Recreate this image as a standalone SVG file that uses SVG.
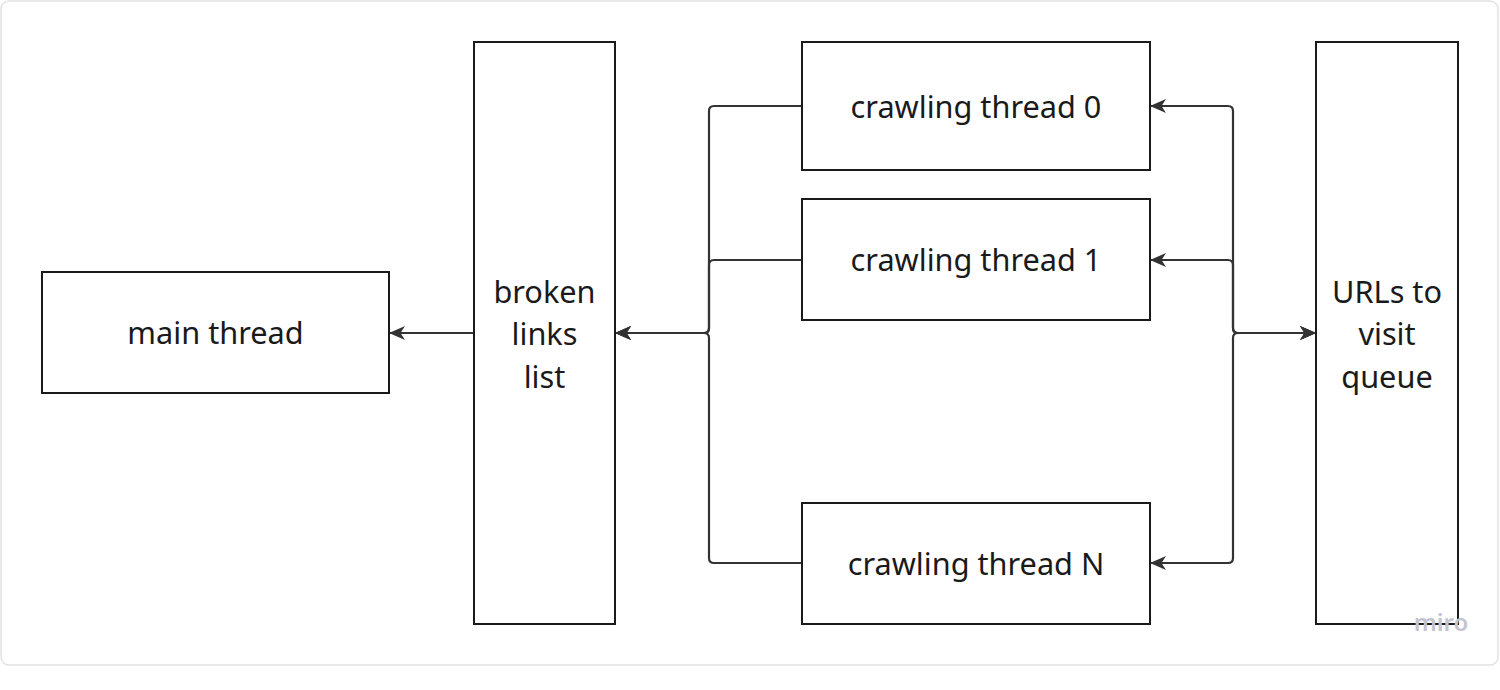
<svg xmlns="http://www.w3.org/2000/svg" width="1500" height="690" viewBox="0 0 1500 690">
<style>
.box{fill:#ffffff;stroke:#1a1a1a;stroke-width:2}
.lbl{font-family:"Noto Sans","Open Sans",sans-serif;font-size:30.7px;fill:#1a1a1a;text-anchor:middle}
.con{fill:none;stroke:#333333;stroke-width:2.2}
</style>
<defs>
<marker id="arr" viewBox="0 0 16 14" refX="15" refY="7" markerWidth="16" markerHeight="14" markerUnits="userSpaceOnUse" orient="auto-start-reverse">
<path d="M0,0 L16,7 L0,14 L4.5,7 Z" fill="#333333"/>
</marker>
</defs>
<rect x="0" y="0" width="1500" height="690" fill="#ffffff"/>
<rect x="1" y="1" width="1497" height="664" rx="8" fill="#ffffff" stroke="#e2e2e2" stroke-width="1.5"/>
<g id="connectors">
<path class="con" d="M474,333 H390" marker-end="url(#arr)"/>
<path class="con" d="M802,106 H714 Q709,106 709,111 V328 Q709,333 704,333 H616" marker-end="url(#arr)"/>
<path class="con" d="M802,260 H714 Q709,260 709,265 V328 Q709,333 704,333 H616" marker-end="url(#arr)"/>
<path class="con" d="M802,563 H714 Q709,563 709,558 V338 Q709,333 704,333 H616" marker-end="url(#arr)"/>
<path class="con" d="M1315,333 H1238 Q1233,333 1233,328 V111 Q1233,106 1228,106 H1151" marker-start="url(#arr)" marker-end="url(#arr)"/>
<path class="con" d="M1315,333 H1238 Q1233,333 1233,328 V265 Q1233,260 1228,260 H1151" marker-start="url(#arr)" marker-end="url(#arr)"/>
<path class="con" d="M1315,333 H1238 Q1233,333 1233,338 V558 Q1233,563 1228,563 H1151" marker-start="url(#arr)" marker-end="url(#arr)"/>
</g>
<g id="main-thread">
<rect class="box" x="42" y="272" width="347" height="121"/>
<text class="lbl" x="215.5" y="344">main thread</text>
</g>
<g id="broken-links-list">
<rect class="box" x="474" y="42" width="141" height="582"/>
<text class="lbl" x="544.5" y="303">broken</text>
<text class="lbl" x="544.5" y="345">links</text>
<text class="lbl" x="544.5" y="388">list</text>
</g>
<g id="crawling-thread-0">
<rect class="box" x="802" y="42" width="348" height="128"/>
<text class="lbl" x="976" y="118">crawling thread 0</text>
</g>
<g id="crawling-thread-1">
<rect class="box" x="802" y="199" width="348" height="121"/>
<text class="lbl" x="976" y="271">crawling thread 1</text>
</g>
<g id="crawling-thread-N">
<rect class="box" x="802" y="503" width="348" height="121"/>
<text class="lbl" x="976" y="575">crawling thread N</text>
</g>
<g id="urls-to-visit-queue">
<rect class="box" x="1316" y="42" width="142" height="582"/>
<text class="lbl" x="1387" y="303">URLs to</text>
<text class="lbl" x="1387" y="345">visit</text>
<text class="lbl" x="1387" y="388">queue</text>
</g>
<text x="1441" y="631" font-family="Noto Sans, sans-serif" font-size="24" font-weight="600" fill="#c4c4d0" text-anchor="middle">miro</text>
</svg>
